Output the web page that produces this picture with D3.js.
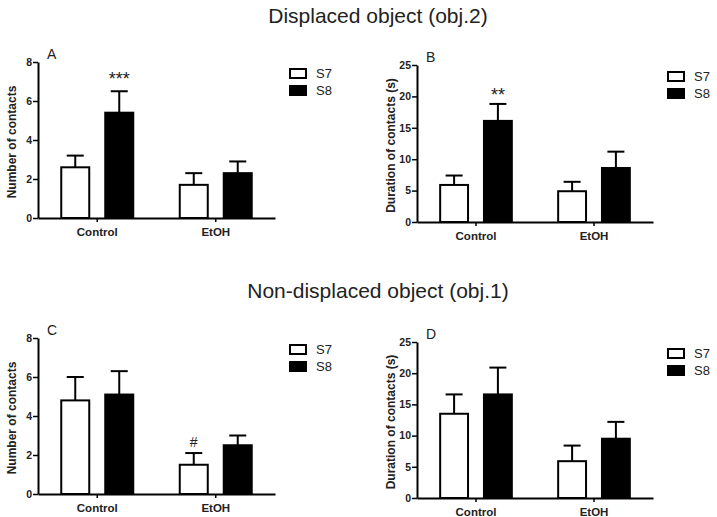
<!DOCTYPE html>
<html>
<head>
<meta charset="utf-8">
<script src="https://cdn.jsdelivr.net/npm/d3@7"></script>
<style>
  body { margin: 0; background: #fff; }
  svg { font-family: "Liberation Sans", Arial, sans-serif; }
</style>
</head>
<body>
<div id="chart"></div>
<script>
// values (mean and SEM, upward error bar only)
const groups = ["Control", "EtOH"];
const series = ["S7", "S8"];

const aS7 = [2.6, 1.7],   aS7Err = [0.6, 0.6];
const aS8 = [5.4, 2.3],   aS8Err = [1.1, 0.6];
const bS7 = [5.9, 4.9],   bS7Err = [1.5, 1.5];
const bS8 = [16.1, 8.6],  bS8Err = [2.7, 2.6];
const cS7 = [4.8, 1.5],   cS7Err = [1.2, 0.6];
const cS8 = [5.1, 2.5],   cS8Err = [1.2, 0.5];
const dS7 = [13.5, 5.9],  dS7Err = [3.1, 2.5];
const dS8 = [16.6, 9.5],  dS8Err = [4.3, 2.7];

const countTicks = [0, 2, 4, 6, 8];
const durationTicks = [0, 5, 10, 15, 20, 25];

const W = 717, H = 517;

const svg = d3.select("#chart").append("svg")
  .attr("width", W)
  .attr("height", H);

svg.append("text")
  .attr("x", 378).attr("y", 23)
  .attr("text-anchor", "middle")
  .attr("font-size", 21)
  .attr("fill", "#222")
  .text("Displaced object (obj.2)");

svg.append("text")
  .attr("x", 378).attr("y", 298)
  .attr("text-anchor", "middle")
  .attr("font-size", 21)
  .attr("fill", "#222")
  .text("Non-displaced object (obj.1)");

const panels = [
  { letter: "A", left: 38,  right: 275, top: 62,  bottom: 218, max: 8,  ticks: countTicks,
    ytitle: "Number of contacts", s7: aS7, s7e: aS7Err, s8: aS8, s8e: aS8Err,
    marks: [{ g: 0, s: 1, text: "***", dy: -6 }] },
  { letter: "B", left: 417, right: 653, top: 65,  bottom: 222, max: 25, ticks: durationTicks,
    ytitle: "Duration of contacts (s)", s7: bS7, s7e: bS7Err, s8: bS8, s8e: bS8Err,
    marks: [{ g: 0, s: 1, text: "**", dy: -3 }] },
  { letter: "C", left: 38,  right: 275, top: 338, bottom: 494, max: 8,  ticks: countTicks,
    ytitle: "Number of contacts", s7: cS7, s7e: cS7Err, s8: cS8, s8e: cS8Err,
    marks: [{ g: 1, s: 0, text: "#", dy: -6 }] },
  { letter: "D", left: 417, right: 653, top: 342, bottom: 498, max: 25, ticks: durationTicks,
    ytitle: "Duration of contacts (s)", s7: dS7, s7e: dS7Err, s8: dS8, s8e: dS8Err,
    marks: [] }
];

const fills = { S7: "#fff", S8: "#000" };

function drawPanel(p) {
  const g = svg.append("g");

  const x = d3.scaleBand().domain(groups).range([p.left, p.right]).padding(0);
  const xs = d3.scaleBand().domain(series).range([0, x.bandwidth()])
    .paddingInner(0.318).paddingOuter(0.506);
  const y = d3.scaleLinear().domain([0, p.max]).range([p.bottom, p.top]);

  const rows = [];
  groups.forEach((grp, i) => {
    rows.push({ grp, s: "S7", v: p.s7[i], e: p.s7e[i] });
    rows.push({ grp, s: "S8", v: p.s8[i], e: p.s8e[i] });
  });

  // error bars first so the bar outline sits on top
  const eb = g.selectAll(".err").data(rows).enter().append("g")
    .attr("stroke", "#000").attr("stroke-width", 2);
  eb.append("line")
    .attr("x1", d => x(d.grp) + xs(d.s) + xs.bandwidth() / 2)
    .attr("x2", d => x(d.grp) + xs(d.s) + xs.bandwidth() / 2)
    .attr("y1", d => y(d.v))
    .attr("y2", d => y(d.v + d.e));
  eb.append("line")
    .attr("x1", d => x(d.grp) + xs(d.s) + xs.bandwidth() / 2 - 8.5)
    .attr("x2", d => x(d.grp) + xs(d.s) + xs.bandwidth() / 2 + 8.5)
    .attr("y1", d => y(d.v + d.e))
    .attr("y2", d => y(d.v + d.e));

  g.selectAll(".bar").data(rows).enter().append("rect")
    .attr("x", d => x(d.grp) + xs(d.s) + 1)
    .attr("y", d => y(d.v))
    .attr("width", xs.bandwidth() - 2)
    .attr("height", d => y(0) - y(d.v))
    .attr("fill", d => fills[d.s])
    .attr("stroke", "#000")
    .attr("stroke-width", 2);

  // axes
  const ya = g.append("g")
    .attr("transform", `translate(${p.left},0)`)
    .call(d3.axisLeft(y).tickValues(p.ticks).tickSize(5).tickSizeOuter(0).tickPadding(1));
  ya.select(".domain").attr("stroke-width", 2);
  ya.selectAll(".tick line").attr("stroke-width", 1.5);
  ya.selectAll(".tick text")
    .attr("font-family", "'Liberation Sans', Arial, sans-serif")
    .attr("font-size", 10.5).attr("font-weight", "bold").attr("fill", "#222");

  const xa = g.append("g")
    .attr("transform", `translate(0,${p.bottom})`)
    .call(d3.axisBottom(x).tickSize(4).tickSizeOuter(0).tickPadding(6));
  xa.select(".domain").attr("stroke-width", 2);
  xa.selectAll(".tick line").attr("stroke-width", 1.5);
  xa.selectAll(".tick text")
    .attr("font-family", "'Liberation Sans', Arial, sans-serif")
    .attr("font-size", 11.5).attr("font-weight", "bold").attr("fill", "#222");

  // y title
  g.append("text")
    .attr("transform", `translate(${p.left - 22},${(p.top + p.bottom) / 2 + 2}) rotate(-90)`)
    .attr("text-anchor", "middle")
    .attr("font-size", 12).attr("font-weight", "bold").attr("fill", "#222")
    .text(p.ytitle);

  // panel letter
  g.append("text")
    .attr("x", p.left + 9).attr("y", p.top - 3)
    .attr("font-size", 14).attr("fill", "#222")
    .text(p.letter);

  // significance marks
  p.marks.forEach(m => {
    const s = series[m.s];
    const v = m.s === 0 ? p.s7[m.g] + p.s7e[m.g] : p.s8[m.g] + p.s8e[m.g];
    g.append("text")
      .attr("x", x(groups[m.g]) + xs(s) + xs.bandwidth() / 2)
      .attr("y", y(v) + m.dy)
      .attr("text-anchor", "middle")
      .attr("font-size", m.text === "#" ? 14 : 18).attr("fill", "#222")
      .text(m.text);
  });

  // legend
  const lg = g.append("g").attr("transform", `translate(${p.right + 15},${p.top + 7})`);
  series.forEach((s, i) => {
    lg.append("rect")
      .attr("x", 0).attr("y", i * 17)
      .attr("width", 16).attr("height", 9)
      .attr("fill", fills[s]).attr("stroke", "#000").attr("stroke-width", 2);
    lg.append("text")
      .attr("x", 26).attr("y", i * 17 + 9)
      .attr("font-size", 13).attr("fill", "#222")
      .text(s);
  });
}

panels.forEach(drawPanel);
</script>
</body>
</html>
